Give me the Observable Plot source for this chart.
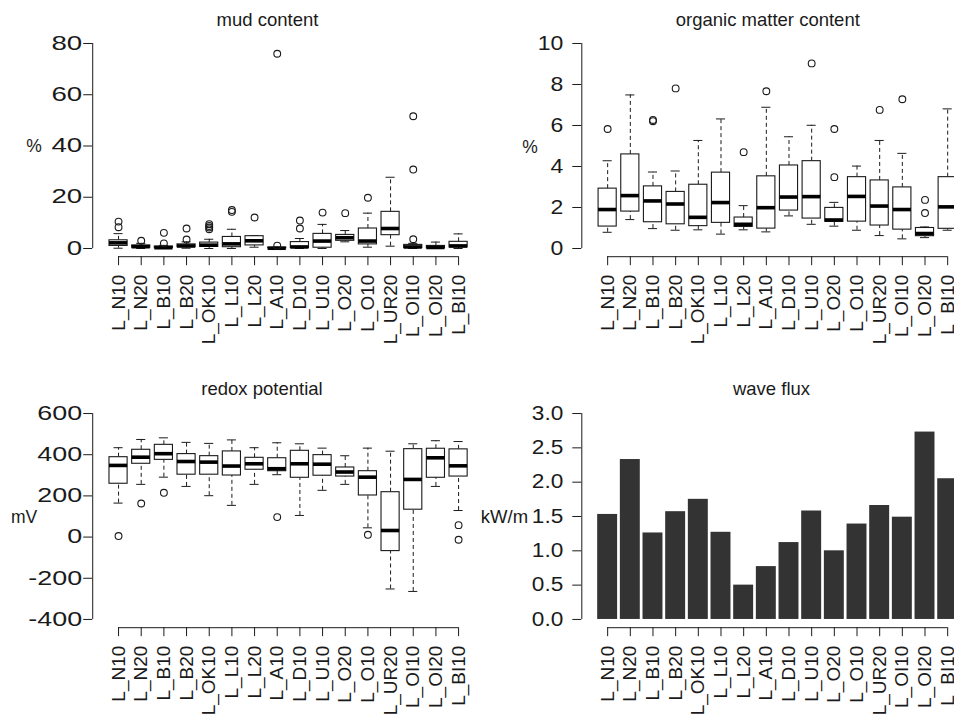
<!DOCTYPE html>
<html><head><meta charset="utf-8">
<script src="https://cdn.jsdelivr.net/npm/d3@7"></script>
<script src="https://cdn.jsdelivr.net/npm/@observablehq/plot@0.6"></script>
<style>
body{margin:0;background:#fff;overflow:hidden;font-family:"Liberation Sans",Arial,sans-serif;}
#c{position:relative;width:954px;height:720px;overflow:hidden;background:#fff;}
.p{position:absolute;}
.t{position:absolute;white-space:nowrap;color:#1a1a1a;line-height:normal;transform:translate(-50%,-50%);}
</style></head><body><div id="c"></div>
<script>
const sites = ["L_N10","L_N20","L_B10","L_B20","L_OK10","L_L10","L_L20","L_A10","L_D10","L_U10","L_O20","L_O10","L_UR20","L_OI10","L_OI20","L_BI10"];

// mud content (%)
const mudLo  = [0.1, 0, 0, 0.1, 0, 0, 0.5, 0, 0, 0, 2.6, 0.5, 0.9, 0, 0, 0];
const mudQ1  = [1.0, 0.3, 0.1, 0.5, 0.6, 0.5, 1.2, 0.05, 0.2, 0.3, 3.0, 1.6, 5.2, 0.2, 0.1, 0.4];
const mudMed = [2.2, 0.7, 0.3, 1.0, 1.3, 1.8, 3.0, 0.1, 0.6, 2.9, 4.2, 2.9, 7.8, 0.6, 0.4, 1.0];
const mudQ3  = [3.2, 1.2, 0.8, 1.6, 2.3, 4.5, 4.8, 0.3, 2.5, 5.7, 5.3, 7.8, 14.3, 1.4, 1.0, 2.6];
const mudHi  = [5.8, 2.0, 1.2, 2.6, 3.6, 7.5, 5.0, 0.5, 3.9, 9.4, 7.0, 13.8, 27.8, 2.0, 2.5, 5.7];
const mudOut = [[8.3,10.5],[3.0],[2.0,6.1],[3.5,7.8],[7.5,8.2,8.8,9.5],[14.3,15.0],[12.1],[1.1,76],[7.8,10.9],[14.0],[13.8],[19.8],[],[3.6,30.8,51.6],[],[]];
const mudTicks = [0, 20, 40, 60, 80];

// organic matter content (%)
const omLo  = [0.79,1.41,0.97,0.89,0.91,0.70,0.91,0.81,1.59,1.18,1.09,0.89,0.63,0.47,0.53,0.89];
const omQ1  = [1.07,1.80,1.28,1.18,1.09,1.25,1.05,0.97,1.85,1.46,1.30,1.31,1.12,0.92,0.60,0.96];
const omMed = [1.90,2.58,2.32,2.17,1.52,2.24,1.18,1.99,2.51,2.53,1.39,2.54,2.07,1.90,0.73,2.03];
const omQ3  = [2.92,4.59,3.03,2.76,3.11,3.70,1.51,3.52,4.05,4.26,1.98,3.48,3.32,2.98,1.00,3.48];
const omHi  = [4.28,7.49,3.73,3.78,5.27,6.32,2.09,6.89,5.45,6.01,2.25,4.02,5.27,4.64,1.05,6.81];
const omOut = [[5.83],[],[6.21,6.27],[7.81],[],[],[4.70],[7.67],[],[9.03],[3.48,5.83],[],[6.76],[7.28],[1.73,2.37],[]];
const omTicks = [0, 2, 4, 6, 8, 10];

// redox potential (mV)
const rdLo  = [165,256,291,246,201,154,256,303,105,227,256,45,-252,-264,246,129];
const rdQ1  = [259,356,375,303,303,299,327,320,288,298,294,202,-68,133,288,294];
const rdMed = [348,388,405,367,364,345,356,332,356,354,316,291,32,280,385,346];
const rdQ3  = [388,424,448,403,393,416,385,383,419,398,338,320,218,427,429,426];
const rdHi  = [434,474,482,460,455,472,434,458,453,432,395,432,417,453,468,464];
const rdOut = [[5],[163],[215],[],[],[],[],[97],[],[],[],[11],[],[],[],[58,-13]];
const rdTicks = [-400, -200, 0, 200, 400, 600];

// wave flux (kW/m)
const waveFlux = [1.53,2.33,1.26,1.57,1.75,1.27,0.50,0.77,1.12,1.58,1.00,1.39,1.66,1.49,2.73,2.05];
const waveTicks = [0, 0.5, 1, 1.5, 2, 2.5, 3];

// ---------- layout ----------
const STEP = 22.67;                       // px per category
const n = sites.length;
const xdom = [0.5 - 0.04 * n, n + 0.5 + 0.04 * n];
const frameW = (xdom[1] - xdom[0]) * STEP;
const ink = "#1a1a1a";
const FONT = '"Liberation Sans", Arial, sans-serif';
const idx = sites.map((s, k) => k + 1);
const expand = (lim) => { const e = 0.04 * (lim[1] - lim[0]); return [lim[0] - e, lim[1] + e]; };

function axesMarks(ylim, yticks, fmt, pad) {
  const ydom = expand(ylim);
  return [
    Plot.ruleX([xdom[0]], {y1: yticks[0], y2: yticks[yticks.length - 1], stroke: ink}),
    Plot.ruleY([ydom[0]], {x1: 1, x2: n, stroke: ink}),
    Plot.axisY({ticks: yticks, tickFormat: fmt, anchor: "left", label: null, tickSize: 9, tickPadding: pad, fontSize: 19.5, stroke: ink, fill: ink}),
    Plot.axisX({ticks: idx, tickFormat: (i) => sites[i - 1], anchor: "bottom", label: null, tickSize: 9, tickPadding: 9, tickRotate: -90, fontSize: 19, stroke: ink, fill: ink})
  ];
}

function boxPanel({lo, q1, med, q3, hi, out, ylim, yticks, fmt, pad, marginLeft, marginTop, marginBottom}) {
  const rows = idx.map((i, k) => ({i, lo: lo[k], q1: q1[k], med: med[k], q3: q3[k], hi: hi[k]}));
  const pts = idx.flatMap((i, k) => out[k].map((v) => ({i, v})));
  return Plot.plot({
    width: marginLeft + frameW, height: 360,
    marginLeft, marginRight: 0, marginTop, marginBottom,
    x: {type: "linear", domain: xdom, axis: null},
    y: {domain: expand(ylim), axis: null},
    style: {background: "transparent", overflow: "visible", maxWidth: "none", fontFamily: FONT, fontSize: "19px", color: ink},
    marks: [
      Plot.ruleX(rows, {x: "i", y1: "q3", y2: "hi", stroke: ink, strokeDasharray: "4,3"}),
      Plot.ruleX(rows, {x: "i", y1: "lo", y2: "q1", stroke: ink, strokeDasharray: "4,3"}),
      Plot.ruleY(rows, {y: "hi", x1: (d) => d.i - 0.2, x2: (d) => d.i + 0.2, stroke: ink}),
      Plot.ruleY(rows, {y: "lo", x1: (d) => d.i - 0.2, x2: (d) => d.i + 0.2, stroke: ink}),
      Plot.rect(rows, {x1: (d) => d.i - 0.4, x2: (d) => d.i + 0.4, y1: "q1", y2: "q3", fill: "white", stroke: ink, strokeWidth: 1.1}),
      Plot.ruleY(rows, {y: "med", x1: (d) => d.i - 0.4, x2: (d) => d.i + 0.4, stroke: "black", strokeWidth: 3.6}),
      Plot.dot(pts, {x: "i", y: "v", r: 3.4, stroke: ink, fill: "none", strokeWidth: 1.1}),
      ...axesMarks(ylim, yticks, fmt, pad)
    ]
  });
}

function barPanel({vals, ylim, yticks, fmt, pad, marginLeft, marginTop, marginBottom}) {
  const rows = idx.map((i, k) => ({i, v: vals[k]}));
  return Plot.plot({
    width: marginLeft + frameW, height: 360,
    marginLeft, marginRight: 0, marginTop, marginBottom,
    x: {type: "linear", domain: xdom, axis: null},
    y: {domain: expand(ylim), axis: null},
    style: {background: "transparent", overflow: "visible", maxWidth: "none", fontFamily: FONT, fontSize: "19px", color: ink},
    marks: [
      Plot.rectY(rows, {x1: (d) => d.i - 0.44, x2: (d) => d.i + 0.44, y: "v", fill: "#333333"}),
      ...axesMarks(ylim, yticks, fmt, pad)
    ]
  });
}

const c = document.getElementById("c");
function place(el, left, top, w) {
  const d = document.createElement("div");
  d.className = "p"; d.style.left = left + "px"; d.style.top = top + "px";
  if (w) { d.style.width = w + "px"; d.style.overflow = "hidden"; d.style.height = "360px"; }
  d.appendChild(el); c.appendChild(d); return el;
}
function stretch(svg, sx) {
  d3.select(svg).selectAll('g[aria-label="y-axis tick label"] text').each(function () {
    const x = +this.getAttribute("x") || 0, y = +this.getAttribute("y") || 0;
    const t = this.getAttribute("transform") || "";
    this.setAttribute("transform", `${t} translate(${x},${y}) scale(${sx},1) translate(${-x},${-y})`);
  });
}
function label(txt, cx, cy, fs) {
  const d = document.createElement("div");
  d.className = "t"; d.textContent = txt;
  d.style.left = cx + "px"; d.style.top = cy + "px"; d.style.fontSize = fs + "px";
  c.appendChild(d);
}

const numFmt = (d) => String(d);
const p1 = place(boxPanel({lo: mudLo, q1: mudQ1, med: mudMed, q3: mudQ3, hi: mudHi, out: mudOut,
  ylim: [0, 80], yticks: mudTicks, fmt: numFmt, pad: 1.5, marginLeft: 92.2, marginTop: 34.8, marginBottom: 103.8}), 0, 0);
const p3 = place(boxPanel({lo: rdLo, q1: rdQ1, med: rdMed, q3: rdQ3, hi: rdHi, out: rdOut,
  ylim: [-400, 600], yticks: rdTicks, fmt: numFmt, pad: 1.5, marginLeft: 92.2, marginTop: 44.8, marginBottom: 92.8}), 0, 360);
const p2 = place(boxPanel({lo: omLo, q1: omQ1, med: omMed, q3: omQ3, hi: omHi, out: omOut,
  ylim: [0, 10], yticks: omTicks, fmt: numFmt, pad: 9.5, marginLeft: 104.3, marginTop: 34.8, marginBottom: 103.8}), 477, 0, 477);
const p4 = place(barPanel({vals: waveFlux, ylim: [0, 3], yticks: waveTicks, fmt: (d) => d.toFixed(1), pad: 9.5,
  marginLeft: 104.3, marginTop: 44.8, marginBottom: 92.8}), 477, 360, 477);
stretch(p1, 1.42); stretch(p3, 1.38); stretch(p2, 1.18); stretch(p4, 1.16);

label("mud content", 267.5, 19.8, 18.5);
label("organic matter content", 767.8, 19.8, 18.5);
label("redox potential", 262, 388.6, 18.5);
label("wave flux", 771.5, 388.6, 18.5);
label("%", 34, 145.5, 17.5);
label("%", 530, 146.5, 17.5);
label("mV", 24, 517, 17.5);
label("kW/m", 504.5, 517, 18.5);
</script></body></html>
